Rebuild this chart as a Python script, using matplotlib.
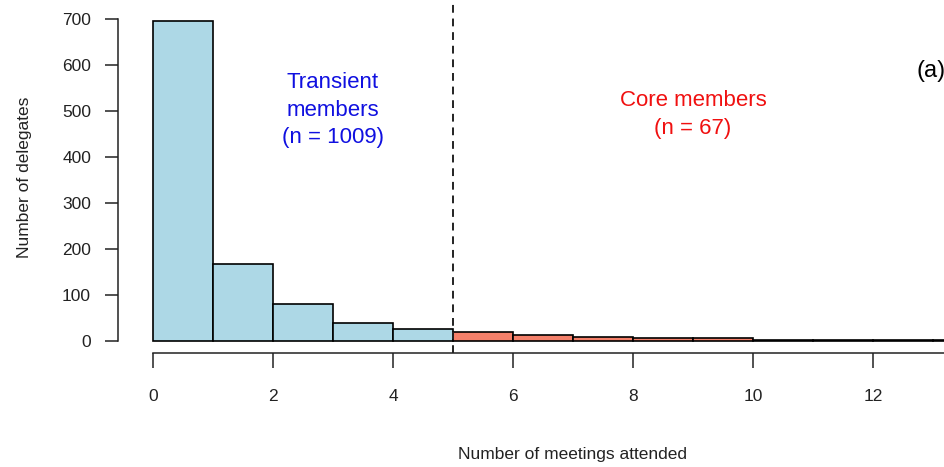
import matplotlib
matplotlib.use("Agg")
import matplotlib.pyplot as plt

# ==================== DATA ====================
# histogram of meetings attended, one bin per meeting count
transient_edges = [0, 1, 2, 3, 4]
transient_counts = [695, 167, 80, 40, 27]        # n = 1009
core_edges = [5, 6, 7, 8, 9, 10, 11, 12, 13, 14, 15, 16]
core_counts = [20, 12, 9, 7, 6, 2, 2, 3, 2, 2, 1, 1]  # n = 67

y_ticks = [0, 100, 200, 300, 400, 500, 600, 700]
x_ticks = [0, 2, 4, 6, 8, 10, 12]
cut_off = 5

transient_label = "Transient\nmembers\n(n = 1009)"
core_label = "Core members\n(n = 67)"
panel_label = "(a)"

# ==================== FIGURE ====================
plt.rcParams['font.family'] = ['Liberation Sans', 'DejaVu Sans']

W, H = 945, 467
fig = plt.figure(figsize=(W / 100, H / 100), dpi=100)

# pixel layout
x0_px, px_per_x = 153, 60.0      # data x=0 and pixels per meeting
y0_px, px_per_y = 341, 0.46      # data y=0 and pixels per delegate
ax_left_px, ax_bottom_px = 118, 353

ax = fig.add_axes([ax_left_px / W, 1 - ax_bottom_px / H,
                   (W - ax_left_px) / W, ax_bottom_px / H])
ax.set_xlim((ax_left_px - x0_px) / px_per_x, (W - x0_px) / px_per_x)
ax.set_ylim((y0_px - ax_bottom_px) / px_per_y, y0_px / px_per_y)

ax.bar(transient_edges, transient_counts, width=1, align='edge',
       color='#ADD8E6', edgecolor='black', linewidth=1.2)
ax.bar(core_edges, core_counts, width=1, align='edge',
       color='#F4806A', edgecolor='black', linewidth=1.2)

ax.axvline(cut_off, color='#222222', linestyle=(0, (4, 3)), linewidth=1.4)

# R-style axes
for s in ['top', 'right']:
    ax.spines[s].set_visible(False)
ax.spines['left'].set_bounds(0, 700)
ax.spines['bottom'].set_bounds(0, (W - x0_px) / px_per_x)
for s in ['left', 'bottom']:
    ax.spines[s].set_linewidth(1.1)
    ax.spines[s].set_color('#222222')

ax.set_yticks(y_ticks)
ax.set_xticks(x_ticks)
ax.tick_params(axis='y', direction='out', length=9.4, width=1.1,
               pad=10, labelsize=12.5, colors='#222222')
ax.tick_params(axis='x', direction='out', length=10.8, width=1.1,
               pad=15, labelsize=12.5, colors='#222222')

# ==================== LABELS ====================
ax.text(3, 502, transient_label, color='#1010E0', fontsize=16,
        ha='center', va='center', linespacing=1.4)
ax.text(9, 492, core_label, color='#F01010', fontsize=16,
        ha='center', va='center', linespacing=1.4)
ax.text(12.97, 588, panel_label, color='black', fontsize=17,
        ha='center', va='center')

fig.text(573 / W, 1 - 455 / H, "Number of meetings attended",
         fontsize=12.5, ha='center', va='center', color='#222222')
fig.text(25 / W, 1 - 177 / H, "Number of delegates", rotation=90,
         fontsize=12.5, ha='center', va='center', color='#222222')

fig.savefig("out.png", dpi=100)
